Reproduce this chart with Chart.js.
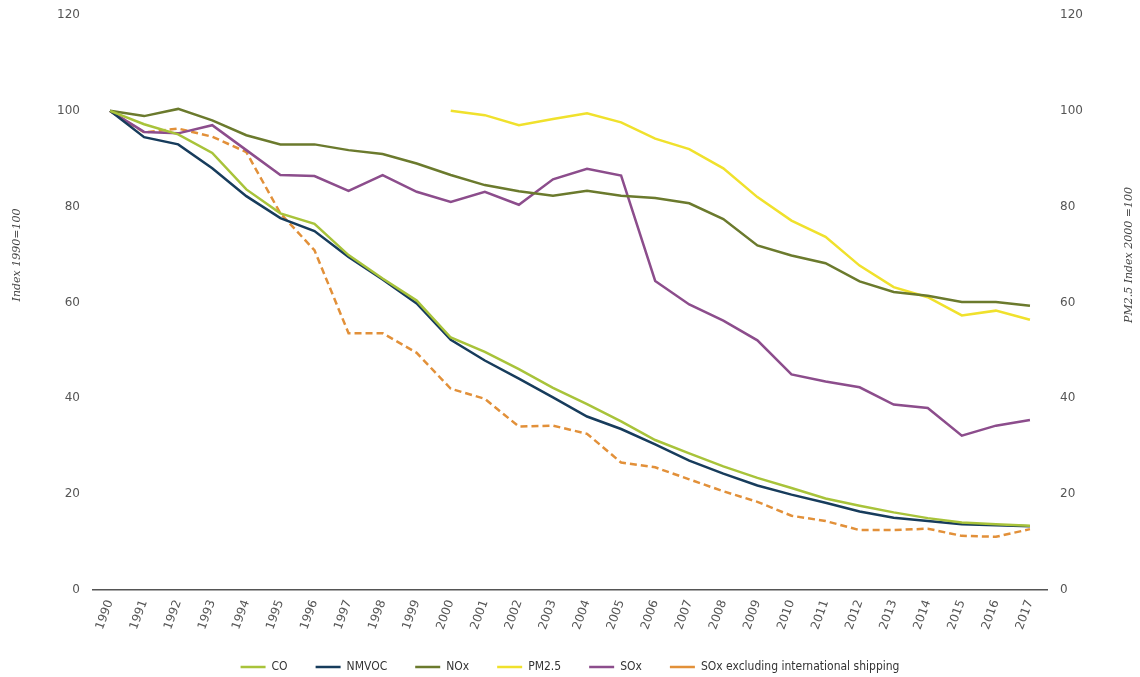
<!DOCTYPE html>
<html>
<head>
<meta charset="utf-8">
<title>Emission trends</title>
<script src="https://cdn.jsdelivr.net/npm/chart.js@4.4.0/dist/chart.umd.min.js"></script>
<style>
  html, body { margin: 0; padding: 0; background: #fff; overflow: hidden; }
  #wrap { position: relative; width: 1140px; height: 677px; }
</style>
</head>
<body>
<div id="wrap"><canvas id="emissionChart"></canvas></div>
<script>
// Years on the x axis
const years = ['1990', '1991', '1992', '1993', '1994', '1995', '1996', '1997', '1998', '1999',
  '2000', '2001', '2002', '2003', '2004', '2005', '2006', '2007', '2008', '2009',
  '2010', '2011', '2012', '2013', '2014', '2015', '2016', '2017'];

// Index values (1990 = 100)
const coValues = [100, 97.2, 95.1, 91.2, 83.6, 78.6, 76.4, 69.9, 65.0, 60.4,
  52.7, 49.7, 46.1, 42.2, 38.8, 35.2, 31.3, 28.5, 25.8, 23.4,
  21.3, 19.1, 17.6, 16.2, 15.0, 14.1, 13.7, 13.4];
const nmvocValues = [100, 94.5, 93.0, 88.0, 82.2, 77.6, 74.9, 69.5, 64.8, 59.8,
  52.2, 47.9, 44.1, 40.2, 36.2, 33.6, 30.4, 27.0, 24.3, 21.8,
  19.9, 18.2, 16.4, 15.1, 14.4, 13.7, 13.5, 13.3];
const noxValues = [100, 98.9, 100.4, 98.0, 94.9, 93.0, 93.0, 91.8, 91.0, 89.0,
  86.6, 84.5, 83.2, 82.3, 83.3, 82.3, 81.8, 80.7, 77.4, 71.9,
  69.8, 68.2, 64.4, 62.2, 61.4, 60.1, 60.1, 59.3];
const soxValues = [100, 95.6, 95.3, 97.0, 91.8, 86.6, 86.4, 83.3, 86.6, 83.1,
  81.0, 83.1, 80.4, 85.7, 87.9, 86.5, 64.5, 59.6, 56.2, 52.1,
  45.0, 43.5, 42.3, 38.7, 38.0, 32.2, 34.3, 35.5];
const soxExclShippingValues = [100, 95.5, 96.3, 94.6, 91.4, 78.6, 70.9, 53.6, 53.6, 49.5,
  42.0, 39.9, 34.1, 34.3, 32.6, 26.6, 25.6, 23.1, 20.6, 18.4,
  15.5, 14.4, 12.5, 12.5, 12.8, 11.3, 11.1, 12.7];

// PM2.5 index (2000 = 100), no values before 2000
const pm25Values = [null, null, null, null, null, null, null, null, null, null,
  100, 99.1, 97.0, 98.3, 99.5, 97.6, 94.2, 92.0, 88.0, 82.0,
  77.1, 73.7, 67.7, 63.2, 61.1, 57.3, 58.3, 56.4];

// Axis ticks
const yTicks = [0, 20, 40, 60, 80, 100, 120];

const leftTitle = 'Index 1990=100';
const rightTitle = 'PM2.5 Index 2000 =100';

const tickFont = { family: '"DejaVu Sans", Verdana, sans-serif', size: 12 };
const tickColor = '#555';

// Both axis titles read bottom-to-top, so they are drawn by hand
const axisTitles = {
  id: 'axisTitles',
  afterDraw(chart) {
    const ctx = chart.ctx;
    ctx.save();
    ctx.font = 'italic 11px "DejaVu Serif", Georgia, serif';
    ctx.fillStyle = '#444';
    ctx.textAlign = 'center';
    ctx.textBaseline = 'middle';
    [[17, leftTitle], [1129, rightTitle]].forEach(([x, text]) => {
      ctx.save();
      ctx.translate(x, 255);
      ctx.rotate(-Math.PI / 2);
      ctx.fillText(text, 0, 0);
      ctx.restore();
    });
    ctx.restore();
  }
};

function lineSet(label, data, color, extra) {
  return Object.assign({
    label: label,
    data: data,
    borderColor: color,
    backgroundColor: color,
    borderWidth: 2.5,
    pointRadius: 0,
    pointHoverRadius: 0,
    pointStyle: 'line',
    tension: 0,
    fill: false,
    spanGaps: false,
    yAxisID: 'y'
  }, extra || {});
}

// fixed width for the value axes, without the extra tick-label padding on top
function fitValueAxis(scale) {
  scale.width = 93;
  scale.paddingTop = 0;
  scale.paddingBottom = 0;
}

const ctx = document.getElementById('emissionChart').getContext('2d');

const emissionChart = new Chart(ctx, {
  type: 'line',
  data: {
    labels: years,
    datasets: [
      lineSet('CO', coValues, '#a8c33a'),
      lineSet('NMVOC', nmvocValues, '#173c5c'),
      lineSet('NOx', noxValues, '#6b7a2d'),
      lineSet('PM2.5', pm25Values, '#f0e12c', { yAxisID: 'y1' }),
      lineSet('SOx', soxValues, '#8c4d8c'),
      lineSet('SOx excluding international shipping', soxExclShippingValues, '#e29039', { borderDash: [7, 4] })
    ]
  },
  options: {
    responsive: true,
    maintainAspectRatio: false,
    animation: false,
    layout: {
      padding: { top: 15, bottom: -6, left: 0, right: 0 }
    },
    plugins: {
      legend: {
        display: true,
        position: 'bottom',
        labels: {
          usePointStyle: true,
          pointStyle: 'line',
          pointStyleWidth: 25,
          boxHeight: 12,
          padding: 28,
          color: '#333',
          font: { family: '"DejaVu Sans Condensed", "Liberation Sans", sans-serif', size: 12 }
        }
      },
      tooltip: { enabled: false }
    },
    scales: {
      x: {
        offset: true,
        grid: { display: false, drawTicks: false },
        border: { display: true, color: '#555', width: 1.5 },
        ticks: {
          color: tickColor,
          font: tickFont,
          padding: 8,
          minRotation: 70,
          maxRotation: 70,
          autoSkip: false
        },
        afterFit(scale) {
          scale.height = 43;
        }
      },
      y: {
        position: 'left',
        min: 0,
        max: 120,
        grid: { display: false, drawTicks: false },
        border: { display: false },
        afterBuildTicks(scale) {
          scale.ticks = yTicks.map(v => ({ value: v }));
        },
        ticks: { color: tickColor, font: tickFont, padding: 13 },
        afterFit: fitValueAxis
      },
      y1: {
        position: 'right',
        min: 0,
        max: 120,
        grid: { display: false, drawTicks: false },
        border: { display: false },
        afterBuildTicks(scale) {
          scale.ticks = yTicks.map(v => ({ value: v }));
        },
        ticks: { color: tickColor, font: tickFont, padding: 13 },
        afterFit: fitValueAxis
      }
    }
  },
  plugins: [axisTitles]
});
</script>
</body>
</html>
